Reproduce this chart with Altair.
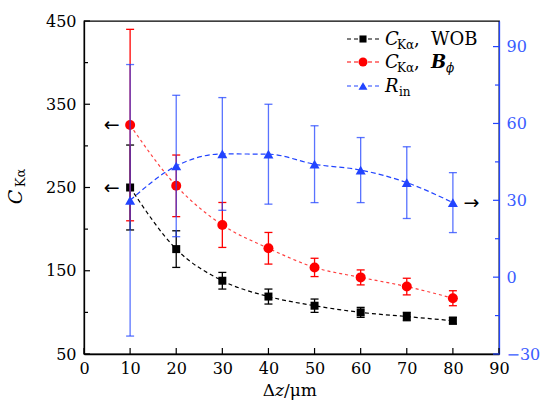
import altair as alt
import pandas as pd

# ---- data ----
x_um = [10, 20, 30, 40, 50, 60, 70, 80]
c_wob = [250, 176, 138, 119, 108, 100, 95, 90]
c_wob_err = [51, 22, 10, 9, 8, 6, 5, 4]
c_bphi = [325, 252, 205, 177, 154, 142, 131, 117]
c_bphi_err = [115, 37, 27, 19, 11, 9, 10, 9]
r_in = [30.0, 43.4, 48.1, 48.0, 44.1, 41.8, 36.9, 29.1]
r_in_err = [53, 27.6, 22, 19.5, 15, 12.7, 14, 11.7]

x_ticks = [0, 10, 20, 30, 40, 50, 60, 70, 80, 90]
left_major = [50, 150, 250, 350, 450]
left_minor = [100, 200, 300, 400]
right_major = [-30, 0, 30, 60, 90]
right_minor = [-15, 15, 45, 75]

# arrow annotations (data coords)
arrow_left_x = [6, 6]
arrow_left_y = [325, 250]
arrow_right_x = [84]
arrow_right_y = [29.1]

FONT = "DejaVu Serif"
BLUE = "#2244ff"
RED = "#ff0000"
BLACK = "#000000"

df = pd.DataFrame({"x": x_um,
                   "wob": c_wob, "wob_e": c_wob_err,
                   "bphi": c_bphi, "bphi_e": c_bphi_err,
                   "rin": r_in, "rin_e": r_in_err})
for c in ["wob", "bphi", "rin"]:
    df[c + "_lo"] = df[c] - df[c + "_e"]
    df[c + "_hi"] = df[c] + df[c + "_e"]

xs = alt.Scale(domain=[0, 90], nice=False, zero=False)
xax = alt.Axis(values=x_ticks, title="", ticks=False, grid=False, labelFont=FONT,
               labelFontSize=16, labelPadding=6, domainColor="black", domainWidth=1.3,
               labelColor="black", labelFlush=False)
ls = alt.Scale(domain=[50, 450], nice=False, zero=False)
lax = alt.Axis(values=left_major, title="", ticks=False, grid=False, labelFont=FONT,
               labelFontSize=16, labelPadding=8, domainColor="black", domainWidth=1.3,
               labelColor="black", labelFlush=False)
rs = alt.Scale(domain=[-30, 100], nice=False, zero=False)
rax = alt.Axis(orient="right", values=right_major, title="", ticks=False, grid=False,
               labelFont=FONT, labelFontSize=16, labelPadding=7, domainColor=BLUE,
               domainWidth=1.3, labelColor="#3a5cff", labelFlush=False)

X = alt.X("x:Q", scale=xs, axis=xax)


def series(col, color, line_color, shape, size, dash, scale, axis, err_opacity=1.0):
    base = alt.Chart(df)
    err = base.mark_rule(color=color, strokeWidth=1.3, opacity=err_opacity).encode(
        x=X, y=alt.Y(f"{col}_lo:Q", scale=scale, axis=axis), y2=f"{col}_hi:Q")
    cap_lo = base.mark_tick(orient="horizontal", size=8, thickness=1.3, color=color,
                            opacity=err_opacity).encode(
        x=X, y=alt.Y(f"{col}_lo:Q", scale=scale, axis=axis))
    cap_hi = base.mark_tick(orient="horizontal", size=8, thickness=1.3, color=color,
                            opacity=err_opacity).encode(
        x=X, y=alt.Y(f"{col}_hi:Q", scale=scale, axis=axis))
    line = base.mark_line(color=line_color, strokeDash=dash, strokeWidth=1.2,
                          interpolate="monotone").encode(
        x=X, y=alt.Y(f"{col}:Q", scale=scale, axis=axis))
    pts = base.mark_point(shape=shape, filled=True, size=size, color=color,
                          opacity=1).encode(
        x=X, y=alt.Y(f"{col}:Q", scale=scale, axis=axis))
    return [err, cap_lo, cap_hi, line, pts]


def tick_rules(vals, scale, axis, x0, x1, color):
    d = pd.DataFrame({"v": vals})
    return alt.Chart(d).mark_rule(color=color, strokeWidth=1.2).encode(
        y=alt.Y("v:Q", scale=scale, axis=axis), x=alt.value(x0), x2=alt.value(x1))


one = pd.DataFrame({"a": [0]})


def txt(s, x, y, size=17, style="normal", weight="normal", align="left",
        baseline="alphabetic", angle=0, color="black", font=FONT):
    return alt.Chart(one).mark_text(text=s, font=font, fontSize=size, fontStyle=style,
                                    fontWeight=weight, align=align, baseline=baseline,
                                    angle=angle, color=color).encode(
        x=alt.value(x), y=alt.value(y))


# ticks pointing inward
xt = pd.DataFrame({"v": x_ticks})
x_tick_layer = alt.Chart(xt).mark_rule(color="black", strokeWidth=1.2).encode(
    x=alt.X("v:Q", scale=xs, axis=xax), y=alt.value(333), y2=alt.value(327))

left_layers = [
    tick_rules(left_major, ls, lax, 0, 6, "black"),
    tick_rules(left_minor, ls, lax, 0, 4, "black"),
    x_tick_layer,
]
left_layers += series("wob", BLACK, BLACK, "square", 64, [4, 3], ls, lax)
left_layers += series("bphi", RED, "#ff4040", "circle", 100, [3, 3], ls, lax)

arr_l = pd.DataFrame({"x": arrow_left_x, "y": arrow_left_y})
left_layers.append(alt.Chart(arr_l).mark_text(text="←", font="DejaVu Sans", fontSize=19,
                                              align="center", baseline="middle",
                                              color="black").encode(
    x=alt.X("x:Q", scale=xs, axis=xax), y=alt.Y("y:Q", scale=ls, axis=lax)))

# legend (manual)
leg_rows = [(18, BLACK, "square", 50), (41, RED, "circle", 80), (65, BLUE, "triangle-up", 80)]
for yy, col, shp, sz in leg_rows:
    left_layers.append(alt.Chart(one).mark_rule(color=col, strokeDash=[4, 3],
                                                strokeWidth=1.2).encode(
        x=alt.value(263), x2=alt.value(295), y=alt.value(yy)))
    left_layers.append(alt.Chart(one).mark_point(shape=shp, filled=True, size=sz,
                                                 color=col, opacity=1).encode(
        x=alt.value(279), y=alt.value(yy)))

# legend text
left_layers += [
    txt("C", 301, 24, size=18, style="italic"),
    txt("Kα", 313, 28, size=12),
    txt(",", 330, 24, size=18),
    txt("WOB", 347, 24, size=18),
    txt("C", 301, 47, size=18, style="italic"),
    txt("Kα", 313, 51, size=12),
    txt(",", 330, 47, size=18),
    txt("B", 347, 47, size=18, style="italic", weight="bold"),
    txt("ϕ", 362, 51, size=12, style="italic"),
    txt("R", 301, 71, size=18, style="italic"),
    txt("in", 315, 75, size=12),
]

# axis titles
left_layers += [
    txt("C", -68, 176, size=19, style="italic", align="center", baseline="middle", angle=270),
    txt("Kα", -63, 157, size=13, align="center", baseline="middle", angle=270),
    txt("Δ", 191, 375, size=17, align="right"),
    txt("z", 191, 375, size=17, style="italic"),
    txt("/μm", 200, 375, size=17),
]

left = alt.layer(*left_layers)

right_layers = [
    tick_rules(right_major, rs, rax, 415, 409, BLUE),
    tick_rules(right_minor, rs, rax, 415, 411, BLUE),
]
right_layers += series("rin", BLUE, BLUE, "triangle-up", 100, [5, 3], rs, rax, err_opacity=0.75)
arr_r = pd.DataFrame({"x": arrow_right_x, "y": arrow_right_y})
right_layers.append(alt.Chart(arr_r).mark_text(text="→", font="DejaVu Sans", fontSize=19,
                                               align="center", baseline="middle",
                                               color="black").encode(
    x=alt.X("x:Q", scale=xs, axis=xax), y=alt.Y("y:Q", scale=rs, axis=rax)))
right = alt.layer(*right_layers)

chart = alt.layer(left, right).resolve_scale(y="independent").properties(
    width=415, height=333,
    padding={"left": 84, "top": 21, "right": 53, "bottom": 53},
    autosize="none",
    background="white",
).configure_view(stroke="black", strokeWidth=1.3)

chart.save("out.html", embed_options={"renderer": "svg", "actions": False})
